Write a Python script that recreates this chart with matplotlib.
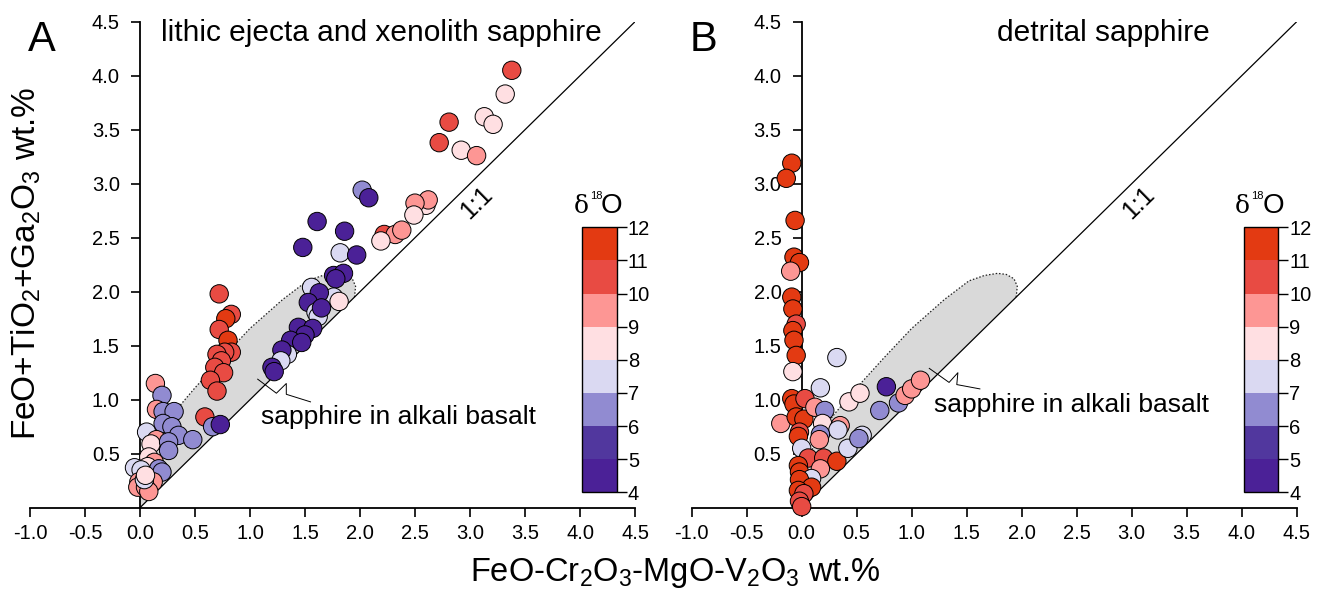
import numpy as np
import matplotlib
matplotlib.use('Agg')
import matplotlib.pyplot as plt
from matplotlib.colors import ListedColormap, BoundaryNorm
from matplotlib.colorbar import ColorbarBase

plt.rcParams['font.family'] = ['Liberation Sans', 'DejaVu Sans']
plt.rcParams['mathtext.default'] = 'regular'

# d18O classes (bin centres) used for the point colours
D, M, L, P, K, R, O = 4.5, 6.5, 7.5, 8.5, 9.5, 10.5, 11.5

# lithic ejecta and xenolith sapphire: (x, y, d18O)
lithic = [
    (3.38, 4.05, R), (2.81, 3.57, R), (2.72, 3.38, R), (3.32, 3.83, P),
    (3.13, 3.62, P), (3.21, 3.55, P), (2.92, 3.31, P), (3.06, 3.26, K),
    (2.60, 2.80, P), (2.62, 2.85, K), (2.50, 2.82, K), (2.49, 2.71, P),
    (2.22, 2.53, R), (2.32, 2.53, K), (2.38, 2.57, K), (2.19, 2.47, P),
    (2.02, 2.94, M), (2.08, 2.87, D), (1.61, 2.65, D), (1.86, 2.56, D),
    (1.48, 2.41, D), (1.82, 2.36, L), (1.97, 2.34, D), (1.76, 2.15, D),
    (1.85, 2.17, D), (1.78, 2.12, D), (1.56, 2.04, L), (1.76, 1.95, L),
    (1.81, 1.91, P), (1.63, 1.99, D), (1.53, 1.90, D), (1.60, 1.81, L),
    (1.62, 1.77, L), (1.65, 1.85, D), (1.44, 1.67, D), (1.57, 1.66, D),
    (1.50, 1.60, D), (1.37, 1.55, D), (1.47, 1.53, D), (1.34, 1.42, L),
    (1.29, 1.46, D), (1.28, 1.36, L), (1.20, 1.30, D), (1.22, 1.26, D),
    (0.72, 1.98, R), (0.83, 1.79, R), (0.78, 1.75, O), (0.72, 1.65, R),
    (0.80, 1.55, O), (0.83, 1.44, R), (0.77, 1.44, R), (0.70, 1.42, R),
    (0.74, 1.36, R), (0.68, 1.30, R), (0.76, 1.25, R), (0.64, 1.18, R),
    (0.70, 1.08, R), (0.59, 0.84, R), (0.66, 0.75, M), (0.73, 0.77, D),
    (0.14, 1.15, K), (0.20, 1.04, M), (0.15, 0.91, K), (0.21, 0.89, M),
    (0.31, 0.89, M), (0.21, 0.78, M), (0.29, 0.75, M), (0.35, 0.67, M),
    (0.48, 0.63, M), (0.06, 0.70, L), (0.15, 0.63, K), (0.10, 0.59, P),
    (0.26, 0.61, M), (0.26, 0.53, M), (0.08, 0.47, P), (0.13, 0.42, K),
    (-0.05, 0.37, L), (0.07, 0.38, P), (0.17, 0.36, M), (0.20, 0.33, M),
    (0.01, 0.35, L), (0.12, 0.24, K), (-0.01, 0.24, K), (-0.02, 0.19, K),
    (0.05, 0.19, K), (0.08, 0.15, K), (0.04, 0.26, L), (0.05, 0.30, P),
]

# detrital sapphire: (x, y, d18O)
detrital = [
    (-0.09, 3.19, O), (-0.14, 3.05, O), (-0.06, 2.66, O), (-0.07, 2.32, O),
    (-0.02, 2.27, O), (-0.10, 2.19, K), (-0.09, 1.95, O), (-0.08, 1.84, O),
    (-0.05, 1.70, R), (-0.08, 1.64, O), (-0.07, 1.55, O), (-0.05, 1.41, O),
    (-0.08, 1.26, P), (-0.09, 1.01, O), (-0.07, 0.96, O), (0.03, 1.01, R),
    (-0.19, 0.78, K), (-0.05, 0.84, O), (0.02, 0.82, O), (-0.02, 0.70, R),
    (-0.03, 0.66, O), (0.32, 1.39, L), (0.17, 1.11, L), (0.12, 0.93, K),
    (0.21, 0.90, M), (0.19, 0.78, P), (0.35, 0.76, K), (0.33, 0.72, L),
    (0.17, 0.68, M), (0.16, 0.63, K), (0.00, 0.55, L), (0.06, 0.46, R),
    (0.20, 0.46, R), (0.32, 0.43, O), (-0.03, 0.39, O), (-0.02, 0.33, O),
    (0.17, 0.36, K), (0.09, 0.27, L), (-0.02, 0.26, O), (0.09, 0.19, O),
    (-0.03, 0.16, O), (0.02, 0.13, R), (-0.02, 0.06, R), (0.42, 0.55, L),
    (0.55, 0.67, L), (0.52, 0.64, M), (0.43, 0.98, P), (0.53, 1.06, P),
    (0.77, 1.12, D), (0.71, 0.90, M), (0.88, 0.97, M), (0.94, 1.04, K),
    (1.00, 1.10, K), (1.08, 1.18, K), (0.00, 0.01, R),
]

# outline of the alkali basalt sapphire field
field = [
    (0.0, 0.0), (1.95, 1.95), (1.96, 2.05), (1.93, 2.12), (1.86, 2.16),
    (1.78, 2.17), (1.66, 2.15), (1.52, 2.10), (1.30, 1.93), (1.00, 1.66),
    (0.75, 1.39), (0.50, 1.11), (0.30, 0.87), (0.18, 0.71), (0.09, 0.53),
    (0.03, 0.30), (0.0, 0.0),
]

levels = [4, 5, 6, 7, 8, 9, 10, 11, 12]
colors = ['#4b2197', '#51379e', '#918bd1', '#dad9f2',
          '#ffdfe2', '#fd9694', '#e84b43', '#e33a12']
cmap = ListedColormap(colors)
norm = BoundaryNorm(levels, cmap.N)

xticks = np.arange(-1.0, 4.51, 0.5)
yticks = np.arange(0.5, 4.51, 0.5)

fig = plt.figure(figsize=(13.21, 5.9), dpi=100)
ax_a = fig.add_axes([0.0227, 0.1395, 0.458, 0.8237])
ax_b = fig.add_axes([0.5236, 0.1395, 0.458, 0.8237])
cax_a = fig.add_axes([0.4408, 0.1656, 0.026, 0.4492])
cax_b = fig.add_axes([0.9415, 0.1656, 0.026, 0.4492])

panels = [
    (ax_a, cax_a, lithic, 'A', 'lithic ejecta and xenolith sapphire', 2.19,
     [(1.07, 1.19), (1.24, 1.06), (1.33, 1.15), (1.33, 1.05), (1.55, 0.98)], (1.10, 0.84)),
    (ax_b, cax_b, detrital, 'B', 'detrital sapphire', 2.74,
     [(1.16, 1.29), (1.34, 1.16), (1.42, 1.25), (1.41, 1.14), (1.62, 1.10)], (1.20, 0.95)),
]

for ax, cax, pts, letter, title, tx, leader, textpos in panels:
    fx, fy = zip(*field)
    ax.fill(fx, fy, color='#d9d9d9', lw=0, zorder=1)
    ax.plot(fx[1:-1], fy[1:-1], color='#222222', lw=0.9, ls=(0, (1.2, 1.5)), zorder=1.5)
    ax.plot([0, 4.5], [0, 4.5], color='black', lw=0.9, zorder=2)

    x, y, d = zip(*pts)
    ax.scatter(x, y, c=d, cmap=cmap, norm=norm, s=175, edgecolors='black',
               linewidths=0.7, zorder=3, clip_on=False)

    lx, ly = zip(*leader)
    ax.plot(lx, ly, color='black', lw=0.7, zorder=4)
    ax.text(textpos[0], textpos[1], 'sapphire in alkali basalt', fontsize=19,
            ha='left', va='center')
    ax.text(3.06, 2.82, '1:1', fontsize=18, rotation=44.5, ha='center', va='center')
    ax.text(tx, 4.40, title, fontsize=21.5, ha='center', va='center')
    ax.text(-0.89, 4.33, letter, fontsize=30, ha='center', va='center')

    ax.set_xlim(-1.0, 4.5)
    ax.set_ylim(0, 4.5)
    ax.spines['top'].set_visible(False)
    ax.spines['right'].set_visible(False)
    ax.spines['left'].set_position(('data', 0))
    ax.spines['left'].set_linewidth(1.3)
    ax.spines['bottom'].set_linewidth(1.3)
    ax.set_xticks(xticks)
    ax.set_xticklabels(['%.1f' % v for v in xticks])
    ax.set_yticks(yticks)
    ax.set_yticklabels(['%.1f' % v for v in yticks])
    ax.tick_params(direction='out', length=6.5, width=1.2, labelsize=14.5)
    ax.tick_params(axis='x', pad=5)
    ax.tick_params(axis='y', pad=8)
    ax.patch.set_alpha(0)

    cb = ColorbarBase(cax, cmap=cmap, norm=norm, boundaries=levels, ticks=levels,
                      orientation='vertical')
    cb.outline.set_linewidth(1.0)
    cax.tick_params(direction='out', length=7, width=1.0, labelsize=14.5, pad=1)
    # delta 18 O heading with a small superscript
    cax.text(-0.04, 1.055, '\u03b4', transform=cax.transAxes, fontsize=18,
             ha='center', va='baseline', family=['DejaVu Serif'])
    cax.text(0.40, 1.105, '18', transform=cax.transAxes, fontsize=8,
             ha='center', va='baseline')
    cax.text(0.86, 1.055, 'O', transform=cax.transAxes, fontsize=20,
             ha='center', va='baseline')

fig.text(0.511, 0.029, 'FeO-Cr$_2$O$_3$-MgO-V$_2$O$_3$ wt.%', fontsize=23.5,
         ha='center', va='center')
fig.text(0.020, 0.553, 'FeO+TiO$_2$+Ga$_2$O$_3$ wt.%', fontsize=24,
         ha='center', va='center', rotation=90)

plt.savefig('out.png', dpi=100)
